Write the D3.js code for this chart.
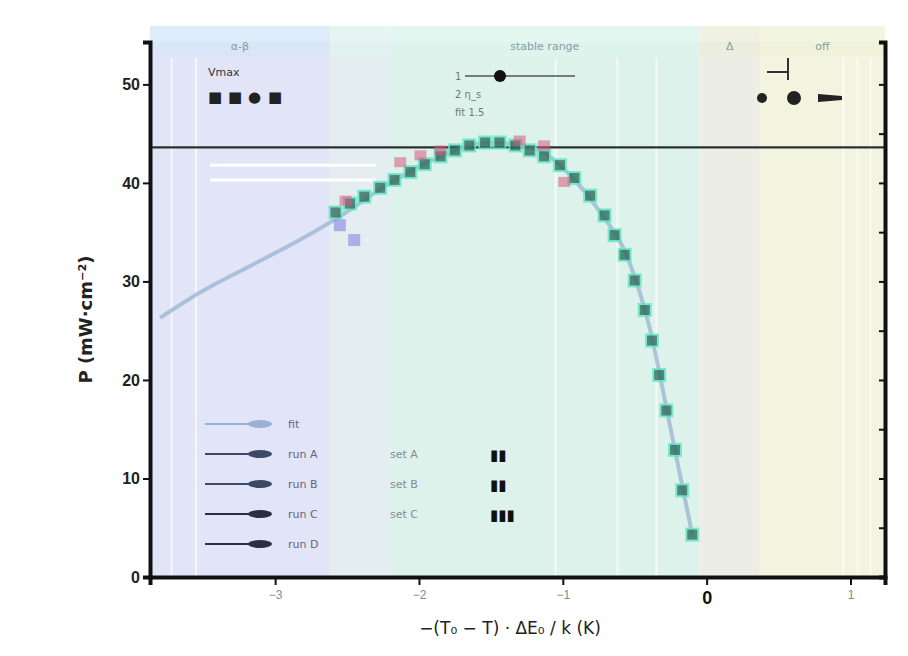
<!DOCTYPE html>
<html>
<head>
<meta charset="utf-8">
<script src="https://cdn.jsdelivr.net/npm/d3@7"></script>
<style>
  body { margin: 0; background: #fff; }
  svg { display: block; font-family: "DejaVu Sans", sans-serif; }
</style>
</head>
<body>
<svg id="chart" width="908" height="656"></svg>
<script>
// ---- data ----
const xTicks = [-3, -2, -1, 0, 1];
const yTicks = [0, 10, 20, 30, 40, 50];
const xTickLabels = ["−3", "−2", "−1", "0", "1"];

// shaded regimes along x
const bandStart = [-3.87, -2.62, -2.20, -0.05, 0.37];
const bandEnd   = [-2.62, -2.20, -0.05, 0.37, 1.24];
const bandName  = ["α-β", "", "stable range", "Δ", "off"];

// measured points, main series
const mainX = [-2.58, -2.48, -2.38, -2.27, -2.17, -2.06, -1.96, -1.85, -1.75, -1.65, -1.54, -1.44, -1.33, -1.23, -1.13, -1.02, -0.92, -0.81, -0.71, -0.64, -0.57, -0.50, -0.43, -0.38, -0.33, -0.28, -0.22, -0.17, -0.10];
const mainY = [37.0, 37.9, 38.6, 39.5, 40.3, 41.1, 41.9, 42.7, 43.3, 43.8, 44.1, 44.1, 43.8, 43.3, 42.7, 41.8, 40.5, 38.7, 36.7, 34.7, 32.7, 30.1, 27.1, 24.0, 20.5, 16.9, 12.9, 8.8, 4.3];

// second series
const secX = [-2.51, -2.13, -1.99, -1.85, -1.30, -1.13, -0.99];
const secY = [38.2, 42.1, 42.8, 43.3, 44.3, 43.8, 40.1];

// third series
const thirdX = [-2.55, -2.45];
const thirdY = [35.7, 34.2];

// fitted trend
const fitX = [-3.80, -3.52, -3.17, -2.83, -2.55, -2.20, -1.85, -1.50, -1.20, -0.95, -0.75, -0.55, -0.40, -0.25, -0.10];
const fitY = [26.3, 28.9, 31.6, 34.2, 36.6, 40.0, 42.7, 44.1, 43.5, 40.8, 37.2, 32.4, 25.5, 15.0, 4.3];

const maxLevel = 43.6;
const refLevel = 41.8;

const legendNames = ["fit", "run A", "run B", "run C", "run D"];
const legendColors = ["#9ab0d8", "#3c4a66", "#3c4a66", "#2a2f44", "#2a2f44"];

// ---- layout ----
const svg = d3.select("#chart");
const L = 150, R = 885, T = 42, B = 577;

const x = d3.scaleLinear().domain([-3.87, 1.24]).range([L, R]);
const y = d3.scaleLinear().domain([0, 54.3]).range([B, T]);

const bandFill = ["#e2e5f8", "#e4eef0", "#ddf2ea", "#ecede4", "#f2f4df"];
const headFill = ["#d6e6f6", "#e0f2f0", "#dcf4ec", "#eceedb", "#eff2d8"];

// background regimes
svg.append("g").selectAll("rect")
  .data(bandStart)
  .join("rect")
  .attr("x", (d) => x(d))
  .attr("y", T)
  .attr("width", (d, i) => x(bandEnd[i]) - x(d))
  .attr("height", B - T)
  .attr("fill", (d, i) => bandFill[i]);

// header strip above plot
svg.append("g").selectAll("rect")
  .data(bandStart)
  .join("rect")
  .attr("x", (d) => x(d))
  .attr("y", 26)
  .attr("width", (d, i) => x(bandEnd[i]) - x(d))
  .attr("height", 30)
  .attr("fill", (d, i) => headFill[i])
  .attr("opacity", 0.8);

// faint vertical guides (below the header strip)
const guideX = [-3.72, -3.55, -1.05, -0.62, -0.35, 0.95, 1.05, 1.14];
svg.append("g").selectAll("line")
  .data(guideX)
  .join("line")
  .attr("x1", (d) => x(d)).attr("x2", (d) => x(d))
  .attr("y1", 58).attr("y2", B)
  .attr("stroke", "#ffffff")
  .attr("stroke-width", 2)
  .attr("opacity", 0.7);

svg.append("g").selectAll("text")
  .data(bandStart)
  .join("text")
  .attr("x", (d, i) => (x(d) + x(bandEnd[i])) / 2)
  .attr("y", 50)
  .attr("text-anchor", "middle")
  .attr("font-size", 11)
  .attr("fill", "#8a9aa8")
  .text((d, i) => bandName[i]);

// reference levels
svg.append("line")
  .attr("x1", L).attr("x2", R)
  .attr("y1", y(maxLevel)).attr("y2", y(maxLevel))
  .attr("stroke", "#2a3030").attr("stroke-width", 2.2);

svg.append("line")
  .attr("x1", x(-3.45)).attr("x2", x(-2.3))
  .attr("y1", y(refLevel)).attr("y2", y(refLevel))
  .attr("stroke", "#ffffff").attr("stroke-width", 3);
svg.append("line")
  .attr("x1", x(-3.45)).attr("x2", x(-2.3))
  .attr("y1", y(refLevel - 1.5)).attr("y2", y(refLevel - 1.5))
  .attr("stroke", "#ffffff").attr("stroke-width", 3);

// fitted curve
const line = d3.line().x((d) => x(d[0])).y((d) => y(d[1])).curve(d3.curveMonotoneX);
svg.append("path")
  .datum(fitX.map((v, i) => [v, fitY[i]]))
  .attr("d", line)
  .attr("fill", "none")
  .attr("stroke", "#9fb6d2")
  .attr("stroke-width", 4)
  .attr("opacity", 0.8);

// main measured series
svg.append("g").selectAll("rect")
  .data(mainX)
  .join("rect")
  .attr("x", (d) => x(d) - 6)
  .attr("y", (d, i) => y(mainY[i]) - 6)
  .attr("width", 12).attr("height", 12)
  .attr("fill", "#2e6e5c")
  .attr("stroke", "#5fe8c8")
  .attr("stroke-width", 2)
  .attr("opacity", 0.8);

// second series
svg.append("g").selectAll("rect")
  .data(secX)
  .join("rect")
  .attr("x", (d) => x(d) - 6)
  .attr("y", (d, i) => y(secY[i]) - 5)
  .attr("width", 12).attr("height", 10)
  .attr("fill", "#d9577e")
  .attr("opacity", 0.55);

// third series
svg.append("g").selectAll("rect")
  .data(thirdX)
  .join("rect")
  .attr("x", (d) => x(d) - 6)
  .attr("y", (d, i) => y(thirdY[i]) - 6)
  .attr("width", 12).attr("height", 12)
  .attr("fill", "#8a8ee6")
  .attr("opacity", 0.65);

// axes
const axisColor = "#111";
const gx = svg.append("g").attr("transform", `translate(0,${B})`)
  .call(d3.axisBottom(x).tickValues(xTicks).tickFormat((d, i) => xTickLabels[i]).tickSize(8));
gx.select(".domain").attr("stroke", axisColor).attr("stroke-width", 4);
gx.selectAll(".tick line").attr("stroke", axisColor).attr("stroke-width", 2);
gx.selectAll(".tick text").attr("font-size", 12).attr("fill", "#888").attr("dy", "0.9em");
gx.selectAll(".tick").filter((d) => d === 0).select("text")
  .attr("font-size", 18).attr("font-weight", "bold").attr("fill", "#111");

const gy = svg.append("g").attr("transform", `translate(${L},0)`)
  .call(d3.axisLeft(y).tickValues(yTicks).tickSize(7));
gy.select(".domain").attr("stroke", axisColor).attr("stroke-width", 4);
gy.selectAll(".tick line").attr("stroke", axisColor).attr("stroke-width", 2);
gy.selectAll(".tick text").attr("font-size", 16).attr("font-weight", "bold").attr("fill", "#222");

const gr = svg.append("g").attr("transform", `translate(${R},0)`)
  .call(d3.axisRight(y).tickValues(yTicks.concat([5, 15, 25, 35, 45])).tickSize(-6).tickFormat(""));
gr.select(".domain").attr("stroke", axisColor).attr("stroke-width", 4);
gr.selectAll(".tick line").attr("stroke", axisColor).attr("stroke-width", 2);

// axis titles
svg.append("text")
  .attr("transform", `translate(92,${(T + B) / 2 + 10}) rotate(-90)`)
  .attr("text-anchor", "middle")
  .attr("font-size", 18)
  .attr("font-weight", "bold")
  .attr("fill", "#222")
  .text("P (mW·cm⁻²)");

svg.append("text")
  .attr("x", 510).attr("y", 634)
  .attr("text-anchor", "middle")
  .attr("font-size", 17)
  .attr("fill", "#222")
  .text("−(T₀ − T) · ΔE₀ / k (K)");

// top-left legend: marker row
const tl = svg.append("g").attr("transform", "translate(208,72)");
tl.append("text").attr("x", 0).attr("y", 4).attr("font-size", 11).attr("fill", "#333").text("Vmax");
const tlMark = ["■", "■", "●", "■"];
tl.selectAll("text.m").data(tlMark).join("text")
  .attr("class", "m")
  .attr("x", (d, i) => i * 20).attr("y", 30)
  .attr("font-size", 15).attr("fill", "#222")
  .text((d) => d);

// top-middle legend
const tm = svg.append("g").attr("transform", "translate(455,76)");
tm.append("line").attr("x1", 10).attr("x2", 120).attr("y1", 0).attr("y2", 0).attr("stroke", "#555").attr("stroke-width", 1.5);
tm.append("circle").attr("cx", 45).attr("cy", 0).attr("r", 6).attr("fill", "#111");
tm.append("text").attr("x", 0).attr("y", 4).attr("font-size", 10).attr("fill", "#777").text("1");
tm.append("text").attr("x", 0).attr("y", 22).attr("font-size", 10).attr("fill", "#777").text("2  η_s");
tm.append("text").attr("x", 0).attr("y", 40).attr("font-size", 10).attr("fill", "#777").text("fit 1.5");

// top-right legend
const tr = svg.append("g").attr("transform", "translate(752,98)");
tr.append("circle").attr("cx", 10).attr("cy", 0).attr("r", 5).attr("fill", "#222");
tr.append("circle").attr("cx", 42).attr("cy", 0).attr("r", 7).attr("fill", "#222");
tr.append("path").attr("d", "M66,-4 L90,-2 L90,2 L66,4 Z").attr("fill", "#222");
tr.append("line").attr("x1", 15).attr("x2", 36).attr("y1", -26).attr("y2", -26).attr("stroke", "#333").attr("stroke-width", 2);
tr.append("line").attr("x1", 36).attr("x2", 36).attr("y1", -40).attr("y2", -18).attr("stroke", "#333").attr("stroke-width", 2);

// bottom-left legend
const bl = svg.append("g").attr("transform", "translate(170,424)");
legendNames.forEach((name, i) => {
  const row = bl.append("g").attr("transform", `translate(0,${i * 30})`);
  row.append("line").attr("x1", 35).attr("x2", 100).attr("y1", 0).attr("y2", 0)
    .attr("stroke", legendColors[i]).attr("stroke-width", 2);
  row.append("ellipse").attr("cx", 90).attr("cy", 0).attr("rx", 12).attr("ry", 4).attr("fill", legendColors[i]);
  row.append("text").attr("x", 118).attr("y", 4).attr("font-size", 11).attr("fill", "#667").text(name);
});

// bottom-middle legend
const bm = svg.append("g").attr("transform", "translate(390,454)");
["A", "B", "C"].forEach((name, i) => {
  const row = bm.append("g").attr("transform", `translate(0,${i * 30})`);
  row.append("text").attr("x", 0).attr("y", 4).attr("font-size", 11).attr("fill", "#889").text("set " + name);
  row.append("text").attr("x", 100).attr("y", 6).attr("font-size", 15).attr("fill", "#111").text(i === 2 ? "▮▮▮" : "▮▮");
});
</script>
</body>
</html>
